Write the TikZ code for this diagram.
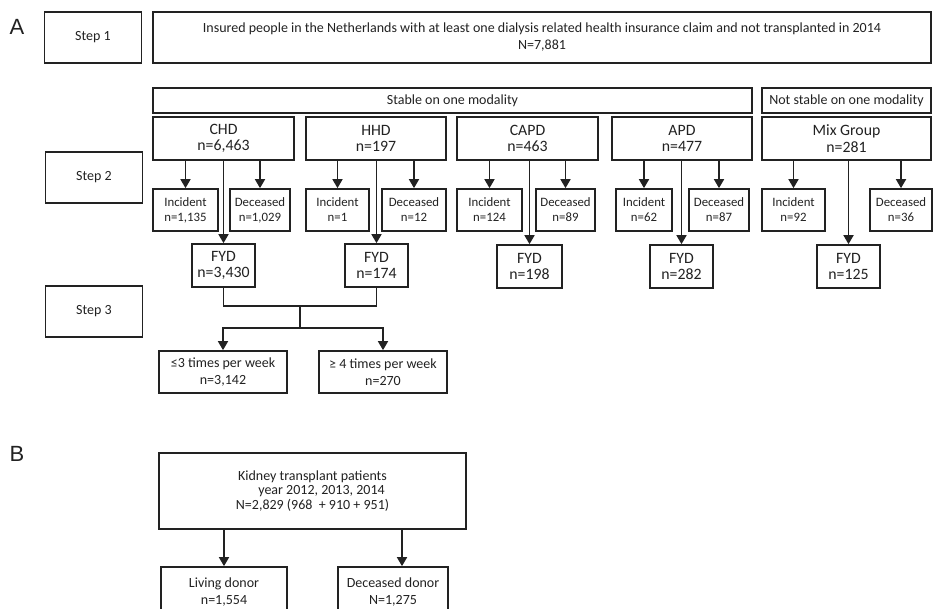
\documentclass[tikz,border=0pt]{standalone}
\usepackage{fontspec}
\setmainfont{Carlito}
\newfontfamily\labelfont{Liberation Sans}
\usetikzlibrary{arrows.meta}
\definecolor{ink}{HTML}{222222}
\tikzset{
  box/.style={draw=ink, line width=1.7pt, fill=white, text=ink, align=center, inner sep=0pt,
    font=\fontsize{14}{17}\selectfont},
  big/.style={font=\fontsize{15.8}{16.5}\selectfont},
  small/.style={font=\fontsize{12.8}{15}\selectfont},
  arr/.style={draw=ink, line width=1.7pt, -{Triangle[length=9pt,width=10pt]}},
  ln/.style={draw=ink, line width=1.7pt},
  lbl/.style={text=ink, font=\labelfont\fontsize{22}{22}\selectfont, inner sep=0pt}
}
\begin{document}
\begin{tikzpicture}[x=1pt,y=-1pt]
\clip (0,0) rectangle (934,608);
\fill[white] (0,0) rectangle (934,608);
% labels
\node[lbl] (A) at (17,27) {A};
\node[lbl] (B) at (17,454) {B};
% step boxes
\node[box, minimum width=97pt, minimum height=51pt] (s1) at (93,37.5) {Step 1};
\node[box, minimum width=97pt, minimum height=51pt] (s2) at (94,177.5) {Step 2};
\node[box, minimum width=97pt, minimum height=51pt] (s3) at (94,311.5) {Step 3};
% top
\node[box, minimum width=778pt, minimum height=51pt] (ins) at (542,37.5)
  {Insured people in the Netherlands with at least one dialysis related health insurance claim and not transplanted in 2014\\N=7,881};
\node[box, minimum width=599pt, minimum height=25pt] (stable) at (452.5,100.5) {Stable on one modality};
\node[box, minimum width=169pt, minimum height=25pt] (nstable) at (846.5,100.5) {Not stable on one modality};
% modality boxes
\node[box, big, minimum width=141pt, minimum height=43pt] (chd) at (223.5,138.5) {CHD\\n=6,463};
\node[box, big, minimum width=140pt, minimum height=43pt] (hhd) at (376,138.5) {HHD\\n=197};
\node[box, big, minimum width=141pt, minimum height=43pt] (capd) at (527.5,138.5) {CAPD\\n=463};
\node[box, big, minimum width=140pt, minimum height=43pt] (apd) at (682,138.5) {APD\\n=477};
\node[box, big, minimum width=169pt, minimum height=43pt] (mix) at (846.5,138.5) {Mix Group\\n=281};
% incident / deceased
\node[box, small, minimum width=65pt, minimum height=42pt] (chdI) at (185.5,210) {Incident\\n=1,135};
\node[box, small, minimum width=60pt, minimum height=42pt] (chdD) at (260,210) {Deceased\\n=1,029};
\node[box, small, minimum width=63pt, minimum height=42pt] (hhdI) at (337.5,210) {Incident\\n=1};
\node[box, small, minimum width=64pt, minimum height=42pt] (hhdD) at (414,210) {Deceased\\n=12};
\node[box, small, minimum width=65pt, minimum height=42pt] (capdI) at (489.5,210) {Incident\\n=124};
\node[box, small, minimum width=59pt, minimum height=42pt] (capdD) at (565.5,210) {Deceased\\n=89};
\node[box, small, minimum width=56pt, minimum height=42pt] (apdI) at (644,210) {Incident\\n=62};
\node[box, small, minimum width=60pt, minimum height=42pt] (apdD) at (719,210) {Deceased\\n=87};
\node[box, small, minimum width=63pt, minimum height=42pt] (mixI) at (793.5,210) {Incident\\n=92};
\node[box, small, minimum width=62pt, minimum height=42pt] (mixD) at (901,210) {Deceased\\n=36};
% FYD
\node[box, big, minimum width=63pt, minimum height=43pt] (chdF) at (223.5,265.5) {FYD\\n=3,430};
\node[box, big, minimum width=63pt, minimum height=43pt] (hhdF) at (376.5,265.5) {FYD\\n=174};
\node[box, big, minimum width=65pt, minimum height=43pt] (capdF) at (529.5,266.5) {FYD\\n=198};
\node[box, big, minimum width=63pt, minimum height=43pt] (apdF) at (681.5,266.5) {FYD\\n=282};
\node[box, big, minimum width=63pt, minimum height=43pt] (mixF) at (848.5,266.5) {FYD\\n=125};
% arrows step 2
\foreach \m in {chd,hhd,capd,apd,mix}{
  \draw[arr] (\m I.north |- \m.south) -- (\m I.north);
  \draw[arr] (\m D.north |- \m.south) -- (\m D.north);
  \draw[arr] (\m F.north |- \m.south) -- (\m F.north);
}
% step 3
\node[box, minimum width=128pt, minimum height=42pt] (le3) at (223,372) {≤3 times per week\\n=3,142};
\node[box, minimum width=128pt, minimum height=42pt] (ge4) at (383,372) {≥ 4 times per week\\n=270};
\coordinate (j1) at (300,306);
\coordinate (j2) at (300,328);
\draw[ln] (chdF.south) |- (j1) -| (hhdF.south);
\draw[ln] (j1) -- (j2);
\draw[arr] (j2) -| (le3.north);
\draw[arr] (j2) -| (ge4.north);
% B
\node[box, font=\fontsize{14}{14.5}\selectfont, minimum width=307pt, minimum height=76pt] (kid) at (312.5,491)
  {Kidney transplant patients\\\hspace*{18pt}year 2012, 2013, 2014\\N=2,829 (968\ \ + 910 + 951)};
\node[box, minimum width=126pt, minimum height=50pt] (liv) at (224,592) {Living donor\\n=1,554};
\node[box, minimum width=110pt, minimum height=50pt] (dd) at (393,592) {Deceased donor\\N=1,275};
\coordinate (a1) at (224,0);
\coordinate (a2) at (402,0);
\draw[arr] (kid.south -| a1) -- (liv.north -| a1);
\draw[arr] (kid.south -| a2) -- (dd.north -| a2);
\end{tikzpicture}
\end{document}
